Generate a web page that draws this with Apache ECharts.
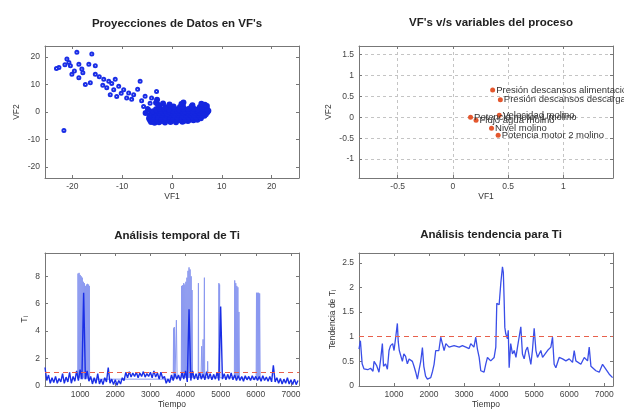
<!DOCTYPE html>
<html>
<head>
<meta charset="utf-8">
<script src="https://cdn.jsdelivr.net/npm/echarts@6/dist/echarts.min.js"></script>
<style>
html,body{margin:0;padding:0;background:#fff}
#main{width:624px;height:414px}
</style>
</head>
<body>
<div id="main"></div>
<script>
// ---- datos ----
// proyecciones (VF1, VF2): cola de puntos dispersos
var proyCola = [
  [-22.7,16.2],[-23.2,15.8],[-21.1,19.3],[-20.7,18],[-20.4,16.8],[-21.5,17.2],[-19.1,21.7],[-20.1,13.7],
  [-18.7,17.4],[-18.1,15.6],[-18.7,12.5],[-19.6,14.9],[-16.1,21.1],[-16.7,17.4],[-15.4,16.8],[-17.9,14.3],
  [-17.4,10],[-16.4,10.6],[-15.4,13.7],[-14.6,12.8],[-13.7,11.9],[-12.7,11.2],[-11.4,11.9],[-13.9,9.7],
  [-13.1,8.8],[-11.7,8.1],[-12.4,6.3],[-12.1,10.4],[-10.7,9.4],[-9.7,8.1],[-8.7,6.9],[-10.2,6.8],
  [-9.1,5.1],[-11.1,5.6],[-7.7,6.3],[-8.1,4.6],[-6.4,11.2],[-6.9,8.3],[-5.4,5.7],[-6.1,4.1],
  [-5.7,2],[-4.1,5.1],[-3.1,7.5],[-4.4,3.2],[-4.9,1.3],[-21.7,-6.7]
];
// proyecciones: nube densa
var proyNube = [
  [-4.2,-3.6],[-3.5,-3.9],[-2.6,-3.7],[-1.4,-3.8],[-0.3,-3.6],[0.8,-3.7],[2.1,-3.5],[3.2,-3.3],
  [-4.4,-3.0],[-3.7,-3.2],[-2.9,-3.1],[-2.0,-3.3],[-1.1,-3.0],[-0.2,-3.2],[0.7,-3.1],[1.6,-3.0],[2.5,-3.2],[3.4,-2.9],[4.3,-3.0],[5.1,-2.8],
  [-4.6,-2.4],[-3.8,-2.3],[-3.1,-2.5],[-2.3,-2.4],[-1.5,-2.6],[-0.7,-2.3],[0.1,-2.5],[0.9,-2.4],[1.7,-2.3],[2.6,-2.5],[3.4,-2.4],[4.2,-2.2],[5.0,-2.5],[5.8,-2.3],
  [-4.5,-1.7],[-3.7,-1.8],[-2.9,-1.6],[-2.2,-1.7],[-1.4,-1.9],[-0.6,-1.6],[0.2,-1.8],[1.0,-1.7],[1.8,-1.5],[2.5,-1.8],[3.3,-1.7],[4.1,-1.6],[4.9,-1.8],[5.7,-1.6],[6.5,-1.4],
  [-4.3,-1.0],[-3.6,-0.9],[-2.8,-1.1],[-2.0,-1.0],[-1.2,-0.8],[-0.4,-1.1],[0.4,-1.0],[1.2,-0.9],[2.0,-1.1],[2.8,-1.0],[3.6,-0.8],[4.4,-1.0],[5.2,-0.9],[6.0,-1.1],[6.8,-0.8],
  [-4.0,-0.3],[-3.3,-0.4],[-2.5,-0.2],[-1.7,-0.3],[-0.9,-0.5],[-0.1,-0.2],[0.7,-0.3],[1.5,-0.4],[2.3,-0.2],[3.1,-0.3],[3.9,-0.1],[4.7,-0.3],[5.5,-0.2],[6.3,-0.4],[7.1,-0.1],
  [-3.8,0.3],[-3.0,0.5],[-2.2,0.4],[-1.4,0.6],[-0.6,0.3],[0.2,0.5],[1.0,0.4],[1.8,0.6],[2.6,0.3],[3.4,0.5],[4.2,0.4],[5.0,0.6],[5.8,0.5],[6.6,0.7],[7.3,0.5],
  [-3.2,1.0],[-2.4,1.2],[-1.5,1.1],[-0.6,0.9],[0.5,1.2],[1.4,1.0],[2.3,1.3],[3.3,1.1],[4.4,1.2],[5.3,1.0],[6.2,1.3],[7.0,1.2],
  [-2.6,1.9],[-1.3,1.7],[0.3,2.0],[1.6,1.8],[2.2,2.1],[3.9,1.9],[5.6,1.8],[6.4,2.0],[7.0,2.2],
  [-2.8,2.6],[-0.5,2.7],[1.9,2.9],[4.1,2.5],[6.6,2.6],
  [-3.2,3.4],[-4.8,0.8],[-5.3,-0.4],[-3.0,4.5],[-1.8,3.1],[2.3,3.5],[5.9,3.0]
];
// cargas de las variables en VF1/VF2
var cargaVF1 = [0.36, 0.43, 0.42, 0.16, 0.21, 0.35, 0.41];
var cargaVF2 = [0.65, 0.42, 0.05, 0.0, -0.07, -0.26, -0.43];
var variables = ['Presión descansos alimentación', 'Presión descansos descarga', 'Velocidad molino',
  'Potencia motor 1 molino', 'Flujo agua molino', 'Nivel molino', 'Potencia motor 2 molino'];

// Ti en el tiempo (muestras cada 50)
var tiPaso = 50;
var tiBase = [
  1.35,0.4,0.8,0.2,0.6,0.25,0.7,0.2,0.55,0.3,0.9,0.2,0.65,0.3,1.0,0.2,0.7,0.35,1.1,0.4,
  1.2,0.5,6.8,0.5,1.1,0.35,0.7,0.15,0.6,0.2,0.9,0.15,0.5,0.1,0.6,0.3,1.35,0.2,0.5,0.1,
  0.45,0.05,0.4,0.15,0.6,0.4,1.0,0.6,1.05,0.65,0.95,0.7,1.0,0.6,0.95,0.7,1.05,0.65,0.9,0.7,
  1.0,0.6,1.1,0.65,0.95,0.5,1.0,0.55,0.7,0.2,0.5,0.25,0.8,0.4,0.9,0.5,0.8,0.4,1.0,0.5,
  1.1,0.3,5.6,0.4,1.1,0.5,0.9,0.45,1.0,0.5,0.85,0.45,1.05,0.5,0.9,0.45,0.85,0.5,1.0,0.4,
  5.8,0.5,0.9,0.45,0.85,0.5,0.95,0.45,0.8,0.4,0.75,0.4,0.7,0.35,0.75,0.45,0.7,0.4,0.75,0.45,
  0.7,0.4,0.7,0.35,0.75,0.4,0.65,0.35,0.7,0.3,1.5,0.3,0.6,0.2,0.55,0.15,0.5,0.2,0.6,0.15,
  0.45,0.1,0.5,0.1,0.4
];
// picos de Ti [tiempo, valor]
var tiPicos = [
  [930,0.5],[940,8.2],[955,0.5],[970,8.25],[985,0.6],[1000,8.1],[1015,0.5],[1030,8.0],[1045,0.6],[1060,7.9],
  [1075,0.5],[1090,7.6],[1105,0.6],[1120,7.5],[1135,0.5],[1150,7.3],[1165,0.6],[1180,7.4],[1195,0.5],[1210,7.45],
  [1225,0.6],[1240,7.4],[1255,0.5],[1262,7.3],[1270,0.5],
  [3650,0.5],[3660,4.2],[3670,0.5],[3680,4.3],[3700,0.6],[3740,4.8],[3760,0.6],
  [3880,0.6],[3890,7.3],[3905,0.6],[3920,7.35],[3935,0.6],[3950,7.5],[3965,0.6],[3980,7.4],[3995,0.6],[4010,7.6],
  [4025,0.6],[4040,7.9],[4055,0.6],[4070,8.4],[4085,0.6],[4100,8.65],[4115,0.6],[4130,8.5],[4145,0.6],[4160,8.0],
  [4175,0.6],[4185,7.0],[4200,0.6],
  [4360,0.6],[4367,7.5],[4375,0.6],
  [4440,0.6],[4460,2.9],[4480,0.6],[4500,3.4],[4520,0.6],
  [4530,0.6],[4537,7.9],[4545,0.6],
  [4620,0.6],[4630,1.8],[4640,0.6],
  [4940,0.6],[4950,7.5],[4960,0.6],[4970,7.4],[4980,0.6],
  [5390,0.6],[5400,7.7],[5415,0.6],[5430,7.5],[5445,0.6],[5460,7.3],[5475,0.6],[5490,7.2],[5505,0.6],[5520,5.4],[5535,0.6],
  [6010,0.5],[6020,6.8],[6035,0.5],[6050,6.8],[6065,0.5],[6080,6.8],[6095,0.5],[6110,6.75],[6125,0.5]
];
// tendencia de Ti
var tendT = [0,40,90,140,250,330,400,430,500,570,620,667,700,760,810,857,900,960,1000,1048,
  1095,1120,1150,1190,1238,1280,1330,1380,1430,1524,1570,1619,1667,1720,1762,1810,1850,1900,1952,2048,
  2100,2143,2190,2280,2333,2380,2429,2480,2570,2714,2860,2952,3050,3143,3190,3280,3333,3380,3430,3476,
  3570,3620,3667,3760,3857,3905,3933,4000,4048,4095,4120,4143,4162,4190,4238,4260,4286,4330,4381,4430,
  4480,4524,4570,4619,4665,4714,4760,4810,4905,4950,5000,5050,5095,5190,5240,5381,5476,5524,5570,5619,
  5714,5810,5905,6000,6095,6143,6190,6333,6430,6524,6571,6620,6762,6857,6952,7000,7143,7238];
var tendV = [0.75,0.92,0.45,0.35,0.33,0.36,0.3,0.5,0.42,0.28,0.55,0.86,0.4,0.45,0.34,0.72,0.82,0.86,0.72,0.99,
  1.27,0.9,0.72,0.75,0.5,0.65,0.6,0.45,0.55,0.5,0.4,0.28,0.14,0.35,0.5,0.78,0.4,0.2,0.14,0.17,
  0.3,0.44,0.72,0.72,0.99,0.86,0.72,0.86,0.79,0.82,0.79,0.82,0.79,0.76,0.86,0.79,0.99,0.75,0.58,0.31,
  0.28,0.45,0.58,0.51,0.58,0.79,1.68,1.65,2.09,2.42,2.3,1.74,1.19,1.06,0.96,1.13,0.37,0.86,0.65,0.72,
  0.58,0.79,0.99,1.2,0.65,0.55,0.72,0.79,0.44,0.72,1.17,0.72,0.58,0.72,0.58,0.72,0.79,0.99,0.44,0.37,
  0.58,0.55,0.51,0.55,0.48,0.72,0.51,0.44,0.58,0.51,0.79,0.4,0.31,0.28,0.44,0.4,0.24,0.17];
var limite = 1;

var fuente = '"Liberation Sans", Arial, sans-serif';
var azul = '#1a2ee6';

function ejesX(g, min, max, ticks, nombre, rejilla) {
  return [{
    type:'value', gridIndex:g, min:min, max:max, position:'bottom',
    name:nombre, nameLocation:'middle', nameGap:14,
    nameTextStyle:{fontSize:8.5, color:'#333', fontFamily:fuente},
    axisLine:{show:true, onZero:false, lineStyle:{color:'#777'}},
    axisTick:{show:true, inside:true, length:3, customValues:ticks, lineStyle:{color:'#777'}},
    axisLabel:{customValues:ticks, fontSize:8.5, color:'#444', margin:4, fontFamily:fuente,
      formatter:function(v){return String(v);}},
    splitLine:{show:!!rejilla, lineStyle:{color:'#c4c4c4', type:[3,3]}}
  },{
    type:'value', gridIndex:g, min:min, max:max, position:'top',
    axisLine:{show:true, onZero:false, lineStyle:{color:'#777'}},
    axisTick:{show:true, inside:true, length:3, customValues:ticks, lineStyle:{color:'#777'}},
    axisLabel:{show:false}, splitLine:{show:false}
  }];
}
function ejesY(g, min, max, ticks, nombre, gap, rejilla) {
  return [{
    type:'value', gridIndex:g, min:min, max:max, position:'left',
    name:nombre, nameLocation:'middle', nameGap:gap, nameRotate:90,
    nameTextStyle:{fontSize:8.5, color:'#333', fontFamily:fuente},
    axisLine:{show:true, onZero:false, lineStyle:{color:'#777'}},
    axisTick:{show:true, inside:true, length:3, customValues:ticks, lineStyle:{color:'#777'}},
    axisLabel:{customValues:ticks, fontSize:8.5, color:'#444', margin:5, fontFamily:fuente,
      formatter:function(v){return String(v);}},
    splitLine:{show:!!rejilla, lineStyle:{color:'#c4c4c4', type:[3,3]}}
  },{
    type:'value', gridIndex:g, min:min, max:max, position:'right',
    axisLine:{show:true, onZero:false, lineStyle:{color:'#777'}},
    axisTick:{show:true, inside:true, length:3, customValues:ticks, lineStyle:{color:'#777'}},
    axisLabel:{show:false}, splitLine:{show:false}
  }];
}

var tiSerie = tiBase.map(function(v, i){ return [i * tiPaso, v]; });
var tendSerie = tendT.map(function(t, i){ return [t, tendV[i]]; });
var cargas = cargaVF1.map(function(x, i){ return {value:[x, cargaVF2[i]], name:variables[i]}; });

var myChart = echarts.init(document.getElementById('main'));
var titulo = {fontSize:11.5, fontWeight:'bold', color:'#222', fontFamily:fuente};
var option = {
  animation:false,
  backgroundColor:'#fff',
  title:[
    {text:"Proyecciones de Datos en VF's", left:172, top:13, textAlign:'center', textStyle:titulo},
    {text:"VF's v/s variables del proceso", left:486, top:12, textAlign:'center', textStyle:titulo},
    {text:'Análisis temporal de Ti', left:172, top:225, textAlign:'center', textStyle:titulo},
    {text:'Análisis tendencia para Ti', left:486, top:224, textAlign:'center', textStyle:titulo}
  ],
  grid:[
    {left:45, top:46, width:254, height:132, outerBoundsMode:'none'},
    {left:359, top:46, width:254, height:132, outerBoundsMode:'none'},
    {left:45, top:253, width:254, height:133, outerBoundsMode:'none'},
    {left:359, top:253, width:254, height:133, outerBoundsMode:'none'}
  ],
  xAxis: [].concat(
    ejesX(0, -25.5, 25.5, [-20,-10,0,10,20], 'VF1'),
    ejesX(1, -0.85, 1.45, [-0.5,0,0.5,1], 'VF1', true),
    ejesX(2, 0, 7230, [1000,2000,3000,4000,5000,6000,7000], 'Tiempo'),
    ejesX(3, 0, 7250, [1000,2000,3000,4000,5000,6000,7000], 'Tiempo')
  ),
  yAxis: [].concat(
    ejesY(0, -24, 24, [-20,-10,0,10,20], 'VF2', 24),
    ejesY(1, -1.45, 1.7, [-1,-0.5,0,0.5,1,1.5], 'VF2', 26, true),
    ejesY(2, 0, 9.7, [0,2,4,6,8], 'Tᵢ', 16),
    ejesY(3, 0, 2.7, [0,0.5,1,1.5,2,2.5], 'Tendencia de Tᵢ', 22)
  ),
  series:[
    {type:'scatter', xAxisIndex:0, yAxisIndex:0, data:proyCola, symbol:'emptyCircle', symbolSize:3,
      itemStyle:{color:azul, borderWidth:1, opacity:1}},
    {type:'scatter', xAxisIndex:0, yAxisIndex:0, data:proyNube, symbol:'circle', symbolSize:6,
      itemStyle:{color:'#1426e0', opacity:1, borderWidth:0}},
    {type:'scatter', xAxisIndex:2, yAxisIndex:2, data:cargas, symbol:'circle', symbolSize:5,
      itemStyle:{color:'#e4572e', opacity:1},
      label:{show:true, position:'right', distance:1, fontSize:9.5, color:'#333', fontFamily:fuente,
        formatter:function(p){return p.name;}}},
    {type:'line', xAxisIndex:4, yAxisIndex:4, data:tiPicos, showSymbol:false, clip:true,
      lineStyle:{color:'#8a98f0', width:1}},
    {type:'line', xAxisIndex:4, yAxisIndex:4, data:tiSerie, showSymbol:false, clip:true,
      lineStyle:{color:azul, width:1.4},
      markLine:{silent:true, symbol:'none', label:{show:false},
        lineStyle:{color:'#e8604c', type:[5,4], width:1}, data:[{yAxis:limite}]}},
    {type:'line', xAxisIndex:6, yAxisIndex:6, data:tendSerie, showSymbol:false, clip:true,
      lineStyle:{color:'#3a4ee8', width:1.3},
      markLine:{silent:true, symbol:'none', label:{show:false},
        lineStyle:{color:'#e8604c', type:[5,4], width:1}, data:[{yAxis:limite}]}}
  ]
};
myChart.setOption(option);
</script>
</body>
</html>
